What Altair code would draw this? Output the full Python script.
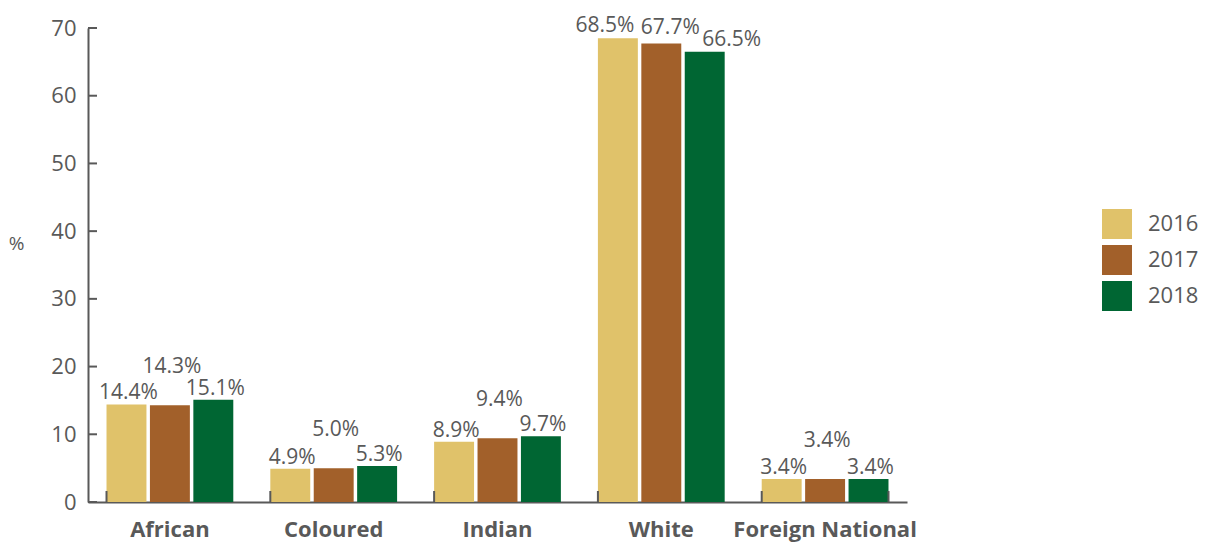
import altair as alt
import pandas as pd

categories = ["African", "Coloured", "Indian", "White", "Foreign National"]
years = ["2016", "2017", "2018"]
v2016 = [14.4, 4.9, 8.9, 68.5, 3.4]
v2017 = [14.3, 5.0, 9.4, 67.7, 3.4]
v2018 = [15.1, 5.3, 9.7, 66.5, 3.4]
y_ticks = [0, 10, 20, 30, 40, 50, 60, 70]
colors = ["#E0C26A", "#A2602A", "#006633"]

rows = []
for series, yr in zip([v2016, v2017, v2018], years):
    for c, v in zip(categories, series):
        rows.append({"cat": c, "year": yr, "value": v, "label": f"{v:.1f}%"})
df = pd.DataFrame(rows)

FONT = "Open Sans"
GREY = "#595959"
W, H = 819, 474

xenc = alt.X("cat:N", sort=categories, scale=alt.Scale(domain=categories, paddingInner=0.226, paddingOuter=0.113),
             axis=alt.Axis(title=None, ticks=False, labelAngle=0, labelFont=FONT, labelFontSize=22,
                           labelFontWeight="bold", labelColor=GREY, labelPadding=17, labelLimit=400,
                           domainColor=GREY, domainWidth=2))
yenc = alt.Y("value:Q", scale=alt.Scale(domain=[0, 70], nice=False),
             axis=alt.Axis(title="%", titleAngle=0, titleX=-72, titleY=215, titleAlign="center",
                           titleBaseline="middle", titleFont=FONT, titleFontSize=19,
                           titleFontWeight="normal", titleColor=GREY, values=y_ticks, ticks=False,
                           grid=False, labelFont=FONT, labelFontSize=22, labelColor=GREY,
                           labelPadding=12, domainColor=GREY, domainWidth=2))
xoff = alt.XOffset("year:N", sort=years, scale=alt.Scale(paddingInner=0.08))

base = alt.Chart(df)
bars = base.mark_bar().encode(
    x=xenc, y=yenc, xOffset=xoff,
    color=alt.Color("year:N", sort=years, scale=alt.Scale(domain=years, range=colors),
                    legend=alt.Legend(title=None, orient="none", legendX=1014, legendY=181,
                                      symbolType="square", symbolSize=900, symbolStrokeWidth=0,
                                      symbolOpacity=1, rowPadding=6, labelFont=FONT,
                                      labelFontSize=22, labelColor=GREY, labelOffset=16)),
)

def txt(filt, dx, dy):
    return base.mark_text(baseline="bottom", align="center", font=FONT, fontSize=21,
                          color=GREY, dx=dx, dy=dy).encode(
        x=alt.X("cat:N", sort=categories), xOffset=alt.XOffset("year:N", sort=years),
        y="value:Q", text="label:N").transform_filter(filt)

t_normal = txt("datum.cat != 'White' && datum.year != '2017'", 2, -1)
t_raised = txt("datum.cat != 'White' && datum.year == '2017'", 2, -28)
t_w16 = txt("datum.cat == 'White' && datum.year == '2016'", -13, -2)
t_w17 = txt("datum.cat == 'White' && datum.year == '2017'", 9, -6)
t_w18 = txt("datum.cat == 'White' && datum.year == '2018'", 27, -2)

tick_df = pd.DataFrame({"cat": categories})
xticks = alt.Chart(tick_df).mark_rule(color=GREY, strokeWidth=2).encode(
    x=alt.X("cat:N", sort=categories, bandPosition=0), y=alt.value(H - 11), y2=alt.value(H))
last_df = pd.DataFrame({"cat": [categories[-1]]})
xtick_end = alt.Chart(last_df).mark_rule(color=GREY, strokeWidth=2).encode(
    x=alt.X("cat:N", sort=categories, bandPosition=1), y=alt.value(H - 11), y2=alt.value(H))
yt_df = pd.DataFrame({"v": y_ticks})
yticks = alt.Chart(yt_df).mark_rule(color=GREY, strokeWidth=2).encode(
    y=alt.Y("v:Q"), x=alt.value(0), x2=alt.value(9))

chart = alt.layer(bars, t_normal, t_raised, t_w16, t_w17, t_w18, xticks, xtick_end, yticks).properties(
    width=W, height=H,
    autosize=alt.AutoSizeParams(type="none"),
    padding={"left": 80, "top": 20, "right": 294, "bottom": 48},
    background="white",
).configure_view(strokeWidth=0, stroke="transparent")

chart.save("out.html", embed_options={"renderer": "svg", "actions": False})
